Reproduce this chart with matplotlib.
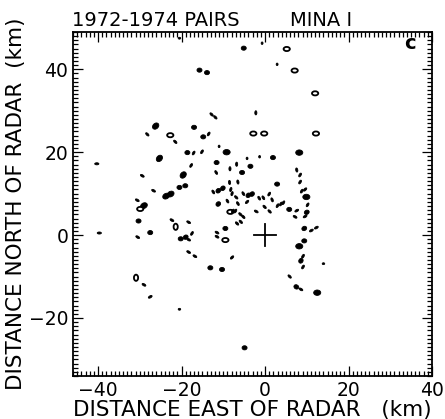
import matplotlib
matplotlib.use('Agg')
import matplotlib.pyplot as plt
from matplotlib.patches import Ellipse
from matplotlib.ticker import MultipleLocator, FixedLocator

# Posiciones de los pares (km al este / al norte del radar)
este = [-20.5, -5.1, -0.7, 5.2, 2.9, 7.1, -15.7, -13.9, 12.0, -12.8,
        -11.9, -2.2, -26.2, -22.7, -17.0, -14.8, -13.5, -2.8, -0.2, 12.2,
        -28.2, -21.5, 8.2, 1.9, -1.3, -4.3, -6.8, -3.5, -18.6, -17.1,
        -15.1, -11.0, -9.2, -40.3, -25.3, -17.7, -11.6, -8.4, -5.5, -11.7,
        7.6, 8.4, 2.9, 8.4, 8.8, 9.6, 9.9, -29.4, -19.6, -8.5,
        -6.5, -26.7, -20.5, -19.1, -23.7, -22.6, -30.6, -29.0, -29.9, -12.4,
        -11.2, -10.1, -8.2, -7.9, -6.9, -5.2, -4.0, -3.1, -1.4, -0.4,
        1.0, 1.7, -0.1, 1.1, 3.0, 3.8, 4.4, 5.8, 7.6, 10.2,
        10.0, 9.6, 7.2, -11.2, -9.0, -6.5, -4.3, -2.1, -8.3, -7.7,
        -7.1, -5.9, -5.2, -30.3, -22.3, -21.4, -18.3, -39.7, -27.5, -30.5,
        -20.2, -19.0, -18.3, -17.5, -9.5, -6.7, -5.8, -11.5, -11.5, -9.5,
        9.4, 11.1, 12.3, 9.4, 8.2, 9.1, 8.6, 9.1, 14.0, -7.9,
        -18.3, -16.8, -13.1, -10.3, -30.9, -29.0, -27.5, -20.5, -4.9, 5.9,
        7.5, 8.6, 12.5]
norte = [47.5, 45.1, 46.3, 44.9, 41.2, 39.7, 39.8, 39.2, 34.2, 29.1,
         28.4, 29.5, 26.3, 24.1, 26.0, 23.7, 24.4, 24.5, 24.5, 24.5,
         24.3, 22.5, 19.9, 18.7, 18.9, 18.5, 17.1, 16.6, 19.9, 19.8,
         20.1, 21.4, 20.0, 17.2, 18.5, 16.8, 17.5, 16.0, 15.1, 15.1,
         15.7, 14.5, 12.3, 12.8, 10.6, 11.0, 9.2, 14.3, 14.5, 12.7,
         12.8, 10.7, 11.5, 11.9, 9.4, 9.9, 8.4, 7.1, 6.3, 10.4,
         10.7, 11.3, 11.0, 10.0, 9.1, 10.0, 9.6, 9.9, 8.9, 9.0,
         9.9, 8.5, 6.8, 5.7, 7.1, 7.5, 7.8, 6.2, 5.9, 7.3,
         5.5, 4.5, 4.4, 7.5, 8.2, 7.6, 8.0, 5.7, 5.6, 5.8,
         5.8, 5.0, 4.4, 3.4, 3.6, 2.0, 3.1, 0.5, 0.6, -0.5,
         -0.9, -0.5, -1.1, 0.4, 1.6, 2.8, 3.2, 0.6, -0.4, -1.2,
         1.6, 1.1, 1.8, -1.4, -2.7, -5.1, -6.2, -7.7, -6.9, -5.4,
         -4.1, -5.1, -7.9, -8.3, -10.3, -12.0, -14.9, -17.9, -27.2, -10.0,
         -12.5, -13.1, -13.9]
# Tipo de marca: G grande, M mediana, P pequena, T diminuta, A abierta
tipo = ['T', 'M', 'T', 'A', 'T', 'A', 'M', 'M', 'A', 'P',
        'P', 'P', 'G', 'A', 'M', 'M', 'P', 'A', 'A', 'A',
        'P', 'P', 'G', 'M', 'T', 'T', 'P', 'M', 'M', 'P',
        'P', 'T', 'G', 'P', 'G', 'P', 'M', 'P', 'M', 'P',
        'P', 'P', 'M', 'P', 'P', 'P', 'G', 'P', 'G', 'P',
        'P', 'P', 'M', 'M', 'G', 'G', 'P', 'G', 'A', 'P',
        'M', 'M', 'P', 'P', 'P', 'P', 'M', 'M', 'P', 'P',
        'P', 'P', 'P', 'P', 'P', 'P', 'P', 'M', 'P', 'P',
        'M', 'P', 'P', 'M', 'P', 'P', 'P', 'P', 'A', 'P',
        'P', 'P', 'P', 'M', 'P', 'A', 'P', 'P', 'M', 'P',
        'M', 'M', 'P', 'P', 'M', 'P', 'P', 'P', 'P', 'A',
        'M', 'P', 'P', 'M', 'G', 'P', 'M', 'P', 'T', 'P',
        'P', 'P', 'M', 'M', 'A', 'P', 'P', 'T', 'M', 'P',
        'M', 'P', 'G']
angulo = [0, 0, 90, 0, 90, 0, 0, 0, 0, 135,
          135, 90, 45, 0, 0, 0, 60, 0, 0, 0,
          135, 135, 0, 0, 90, 90, 90, 0, 0, 60,
          60, 90, 0, 0, 50, 60, 0, 90, 0, 120,
          100, 60, 0, 60, 60, 45, 0, 150, 50, 95,
          100, 150, 0, 0, 30, 30, 150, 30, 0, 120,
          45, 45, 75, 75, 135, 120, 45, 45, 120, 120,
          60, 110, 135, 135, 60, 60, 60, 0, 30, 60,
          30, 30, 150, 45, 120, 120, 45, 150, 0, 60,
          60, 135, 135, 0, 150, 90, 150, 0, 0, 150,
          0, 30, 150, 60, 0, 135, 135, 150, 150, 0,
          30, 30, 30, 0, 0, 60, 60, 60, 0, 45,
          150, 150, 0, 0, 90, 150, 30, 0, 0, 135,
          150, 150, 0]

tamanos = {'G': (1.7, 1.3), 'M': (1.2, 1.0), 'P': (1.0, 0.5),
           'T': (0.6, 0.45), 'A': (1.5, 1.0)}

fig = plt.figure(figsize=(4.45, 4.19), dpi=100)
ax = fig.add_axes([73 / 445, 1 - 376 / 419, 359 / 445, 344 / 419])

for x, y, t, a in zip(este, norte, tipo, angulo):
    w, h = tamanos[t]
    if t == 'A':
        e = Ellipse((x, y), w, h, angle=a, facecolor='white',
                    edgecolor='black', linewidth=1.3)
    else:
        e = Ellipse((x, y), w, h, angle=a, facecolor='black',
                    edgecolor='black', linewidth=0.6)
    ax.add_patch(e)

# Cruz en la posicion del radar
ax.plot([-2.6, 2.6], [0, 0], color='black', linewidth=1.3)
ax.plot([0, 0], [-2.6, 2.6], color='black', linewidth=1.3)

ax.set_xlim(-46, 40)
ax.set_ylim(-34, 49)

for eje in (ax.xaxis, ax.yaxis):
    eje.set_major_locator(FixedLocator([-40, -20, 0, 20, 40]))
    eje.set_minor_locator(MultipleLocator(1))
ax.tick_params(which='both', direction='in', top=True, right=True,
               width=0.9, labelsize=13.5)
ax.tick_params(which='major', length=7)
ax.tick_params(which='minor', length=3.5)
for s in ax.spines.values():
    s.set_linewidth(1.3)

ax.set_xlabel('DISTANCE EAST OF RADAR   (km)', fontsize=15.5, labelpad=0)
ax.set_ylabel('DISTANCE NORTH OF RADAR  (km)', fontsize=15.5, labelpad=2)

fig.text(72 / 445, 1 - 26.5 / 419, '1972-1974 PAIRS', fontsize=14,
         va='baseline', ha='left')
fig.text(290 / 445, 1 - 26.5 / 419, 'MINA I', fontsize=14,
         va='baseline', ha='left')
ax.text(0.939, 0.968, 'c', transform=ax.transAxes, fontsize=14,
        fontweight='bold', ha='center', va='center')

plt.savefig('out.png', dpi=100)
